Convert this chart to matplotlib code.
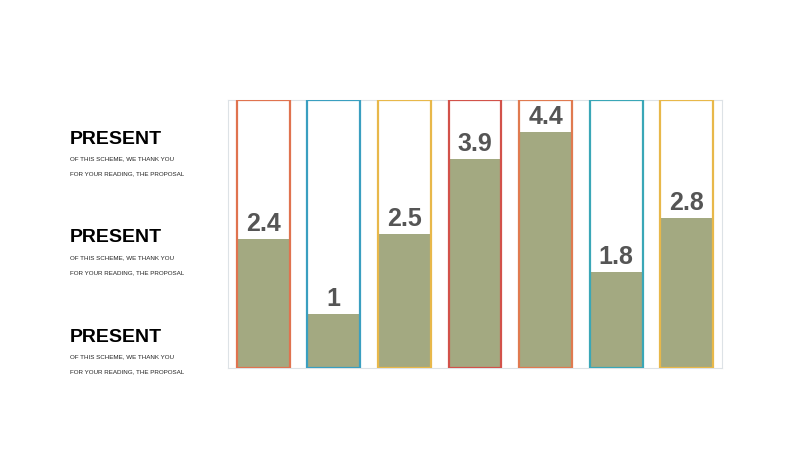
import matplotlib.pyplot as plt
import numpy as np

# chart values
categories = ["A", "B", "C", "D", "E", "F", "G"]
values = [2.4, 1, 2.5, 3.9, 4.4, 1.8, 2.8]
box_max = 5
edge_colors = ["#e0734f", "#3a9fc0", "#e8b84a", "#d2524a", "#e07a50", "#3aa7b7", "#e8b84a"]
value_labels = ["2.4", "1", "2.5", "3.9", "4.4", "1.8", "2.8"]

side_title = "PRESENT"
side_lines = ["OF THIS SCHEME, WE THANK YOU", "FOR YOUR READING, THE PROPOSAL"]

fig = plt.figure(figsize=(8, 4.5), dpi=100)
ax = fig.add_axes([0.285, 0.182, 0.6175, 0.596])

x = np.arange(len(categories))
w = 0.75
ax.bar(x, [box_max] * len(x), width=w, color="white", edgecolor="none", zorder=1)
ax.bar(x, values, width=w, color="#a3a981", edgecolor="none", zorder=2)
ax.bar(x, [box_max] * len(x), width=w, fill=False, edgecolor=edge_colors, linewidth=1.6, zorder=3)

for xi, v, lab in zip(x, values, value_labels):
    ax.text(xi, v + 0.15, lab, ha="center", va="baseline", fontsize=18, fontweight="bold",
            color="#555555", family="Liberation Sans", zorder=4)

ax.set_xlim(-0.5, len(x) - 0.5)
ax.set_ylim(0, box_max)
ax.set_xticks([])
ax.set_yticks([])
for s in ax.spines.values():
    s.set_color("#dde2e6")
    s.set_linewidth(0.8)

# left side text blocks
for yc in [139, 238, 337]:
    fig.text(70 / 800, 1 - yc / 450, side_title, ha="left", va="center", fontsize=14,
             fontweight="bold", color="black", family="Liberation Sans")
    fig.text(70 / 800, 1 - (yc + 20) / 450, side_lines[0], ha="left", va="center",
             fontsize=4.5, color="#222222", family="Liberation Sans")
    fig.text(70 / 800, 1 - (yc + 35) / 450, side_lines[1], ha="left", va="center",
             fontsize=4.5, color="#222222", family="Liberation Sans")

plt.savefig("out.png", dpi=100)
